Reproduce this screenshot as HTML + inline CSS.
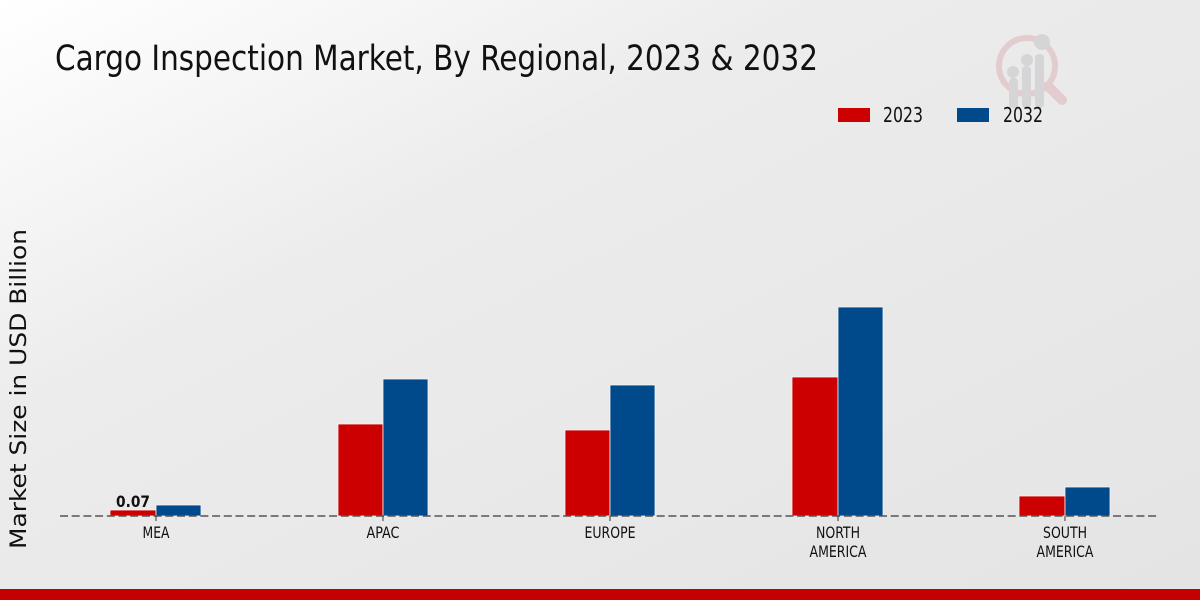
<!DOCTYPE html>
<html><head><meta charset="utf-8"><style>
html,body{margin:0;padding:0;width:1200px;height:600px;overflow:hidden;}
svg{display:block;}
</style></head><body>
<svg width="1200" height="600" viewBox="0 0 1200 600" xmlns="http://www.w3.org/2000/svg">
<defs>
<linearGradient id="bg" x1="0" y1="0" x2="1" y2="1" gradientUnits="objectBoundingBox">
<stop offset="0" stop-color="#ffffff"/>
<stop offset="0.35" stop-color="#ececec"/>
<stop offset="1" stop-color="#e4e4e4"/>
</linearGradient>
</defs>
<rect x="0" y="0" width="1200" height="600" fill="url(#bg)"/>
<!-- logo -->
<g opacity="0.9">
<circle cx="1027" cy="66" r="28" fill="none" stroke="#e3c9cb" stroke-width="6"/>
<line x1="1048" y1="86" x2="1062" y2="100" stroke="#e3c9cb" stroke-width="10" stroke-linecap="round"/>
<rect x="1009" y="78" width="9" height="30" rx="4" fill="#d3d3d5"/>
<rect x="1022" y="66" width="9" height="42" rx="4" fill="#d3d3d5"/>
<rect x="1035" y="54" width="9" height="54" rx="4" fill="#d3d3d5"/>
<circle cx="1013" cy="72" r="6" fill="#d3d3d5"/>
<circle cx="1027" cy="60" r="6" fill="#d3d3d5"/>
<circle cx="1042" cy="42" r="8" fill="#d3d3d5"/>
</g>
<!-- title -->
<text x="55" y="70" font-family="'DejaVu Sans Condensed','DejaVu Sans',sans-serif" font-stretch="condensed" font-size="35" fill="#111" textLength="763" lengthAdjust="spacingAndGlyphs">Cargo Inspection Market, By Regional, 2023 &amp; 2032</text>
<!-- legend -->
<rect x="838" y="108" width="32" height="14" fill="#cc0000"/>
<text x="883" y="122" font-family="'DejaVu Sans Condensed','DejaVu Sans',sans-serif" font-size="20" fill="#111" textLength="40" lengthAdjust="spacingAndGlyphs">2023</text>
<rect x="957" y="108" width="32" height="14" fill="#004a8b"/>
<text x="1003" y="122" font-family="'DejaVu Sans Condensed','DejaVu Sans',sans-serif" font-size="20" fill="#111" textLength="40" lengthAdjust="spacingAndGlyphs">2032</text>
<!-- y label -->
<text transform="translate(26,389) rotate(-90)" text-anchor="middle" font-family="'DejaVu Sans',sans-serif" font-size="22" fill="#111" textLength="320" lengthAdjust="spacingAndGlyphs">Market Size in USD Billion</text>
<!-- bars -->
<g stroke="#f4f4f4" stroke-width="0.8">
<rect x="110" y="510" width="46" height="6" fill="#cc0000"/>
<rect x="156" y="505" width="45" height="11" fill="#004a8b"/>
<rect x="338" y="424" width="45" height="92" fill="#cc0000"/>
<rect x="383" y="379" width="45" height="137" fill="#004a8b"/>
<rect x="565" y="430" width="45" height="86" fill="#cc0000"/>
<rect x="610" y="385" width="45" height="131" fill="#004a8b"/>
<rect x="792" y="377" width="46" height="139" fill="#cc0000"/>
<rect x="838" y="307" width="45" height="209" fill="#004a8b"/>
<rect x="1019" y="496" width="46" height="20" fill="#cc0000"/>
<rect x="1065" y="487" width="45" height="29" fill="#004a8b"/>
</g>
<!-- baseline -->
<line x1="60" y1="516" x2="1158" y2="516" stroke="#555" stroke-width="1.5" stroke-dasharray="8,3.7"/>
<g stroke="#333" stroke-width="1">
<line x1="156" y1="516" x2="156" y2="521"/>
<line x1="383" y1="516" x2="383" y2="521"/>
<line x1="610" y1="516" x2="610" y2="521"/>
<line x1="838" y1="516" x2="838" y2="521"/>
<line x1="1065" y1="516" x2="1065" y2="521"/>
</g>
<!-- value label -->
<text x="133" y="507" text-anchor="middle" font-family="'DejaVu Sans',sans-serif" font-weight="bold" font-size="16" fill="#111" textLength="34" lengthAdjust="spacingAndGlyphs">0.07</text>
<!-- x labels -->
<g font-family="'DejaVu Sans Condensed','DejaVu Sans',sans-serif" font-stretch="condensed" font-size="16" fill="#111" text-anchor="middle" lengthAdjust="spacingAndGlyphs">
<text x="156" y="538" textLength="27" lengthAdjust="spacingAndGlyphs">MEA</text>
<text x="383" y="538" textLength="33" lengthAdjust="spacingAndGlyphs">APAC</text>
<text x="610" y="538" textLength="51" lengthAdjust="spacingAndGlyphs">EUROPE</text>
<text x="838" y="538" textLength="44" lengthAdjust="spacingAndGlyphs">NORTH</text>
<text x="838" y="557" textLength="57" lengthAdjust="spacingAndGlyphs">AMERICA</text>
<text x="1065" y="538" textLength="44" lengthAdjust="spacingAndGlyphs">SOUTH</text>
<text x="1065" y="557" textLength="57" lengthAdjust="spacingAndGlyphs">AMERICA</text>
</g>
<!-- bottom bar -->
<rect x="0" y="589" width="1200" height="11" fill="#c40000"/>
</svg>
</body></html>
